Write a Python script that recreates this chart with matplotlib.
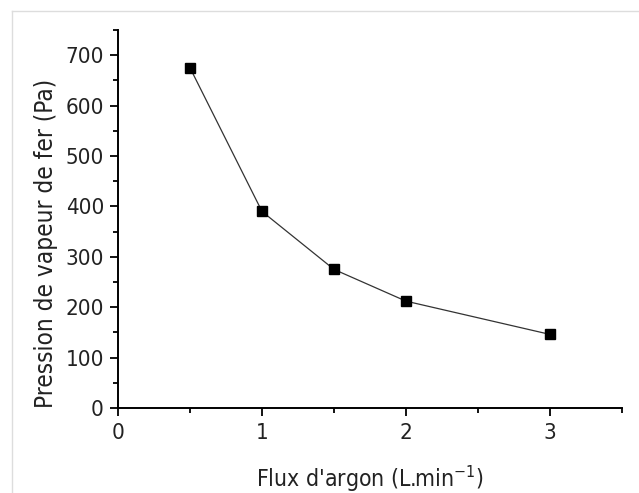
import numpy as np
import matplotlib.pyplot as plt
from matplotlib import font_manager
from matplotlib.lines import Line2D
from matplotlib.ticker import MultipleLocator

# donnees
flux = [0.5, 1.0, 1.5, 2.0, 3.0]
pression = [675, 390, 275, 212, 146]

# police etroite (type Tahoma) si DejaVu Sans Condensed est installee
fp = font_manager.FontProperties(family='DejaVu Sans', stretch='condensed')
chemin = font_manager.findfont(fp)
if 'Condensed' in chemin:
    plt.rcParams['font.stretch'] = 'condensed'
    t_tick, t_xlab, t_ylab = 16, 16.5, 17.5
else:
    t_tick, t_xlab, t_ylab = 14.5, 15.5, 15.5
plt.rcParams['mathtext.fontset'] = 'dejavusans'

fig = plt.figure(figsize=(6.39, 4.93), dpi=100)
ax = fig.add_axes([118/639, 1-408/493, 504/639, 378/493])

ax.plot(flux, pression, color='#333333', lw=0.9, marker='s', ms=7.5,
        mfc='black', mec='black')

ax.set_xlim(0, 3.5)
ax.set_ylim(0, 750)
ax.xaxis.set_major_locator(MultipleLocator(1))
ax.xaxis.set_minor_locator(MultipleLocator(0.5))
ax.yaxis.set_major_locator(MultipleLocator(100))
ax.yaxis.set_minor_locator(MultipleLocator(50))

for s in ['top', 'right']:
    ax.spines[s].set_visible(False)
for s in ['left', 'bottom']:
    ax.spines[s].set_linewidth(1.4)

ax.tick_params(which='major', direction='out', length=5.8, width=1.3, labelsize=t_tick,
               labelcolor='#222222')
ax.tick_params(which='minor', direction='out', length=3.5, width=1.3)
ax.tick_params(axis='x', which='major', pad=5)
ax.tick_params(axis='y', which='major', pad=4.3)

ax.set_xlabel("Flux d'argon (L.min$^{\\mathregular{-1}}$)", fontsize=t_xlab, color='#222222')
ax.xaxis.label.set_va('baseline')
ax.xaxis.set_label_coords(0.5, -79/378)
ax.set_ylabel("Pression de vapeur de fer (Pa)", fontsize=t_ylab, color='#222222')
ax.yaxis.set_label_coords(-60/504, 165/378)

# cadre gris clair en haut et a gauche
fig.add_artist(Line2D([12/639, 1], [1-11/493, 1-11/493], color='#dddddd', lw=1))
fig.add_artist(Line2D([12/639, 12/639], [0, 1-11/493], color='#dddddd', lw=1))

fig.savefig('out.png', dpi=100)
